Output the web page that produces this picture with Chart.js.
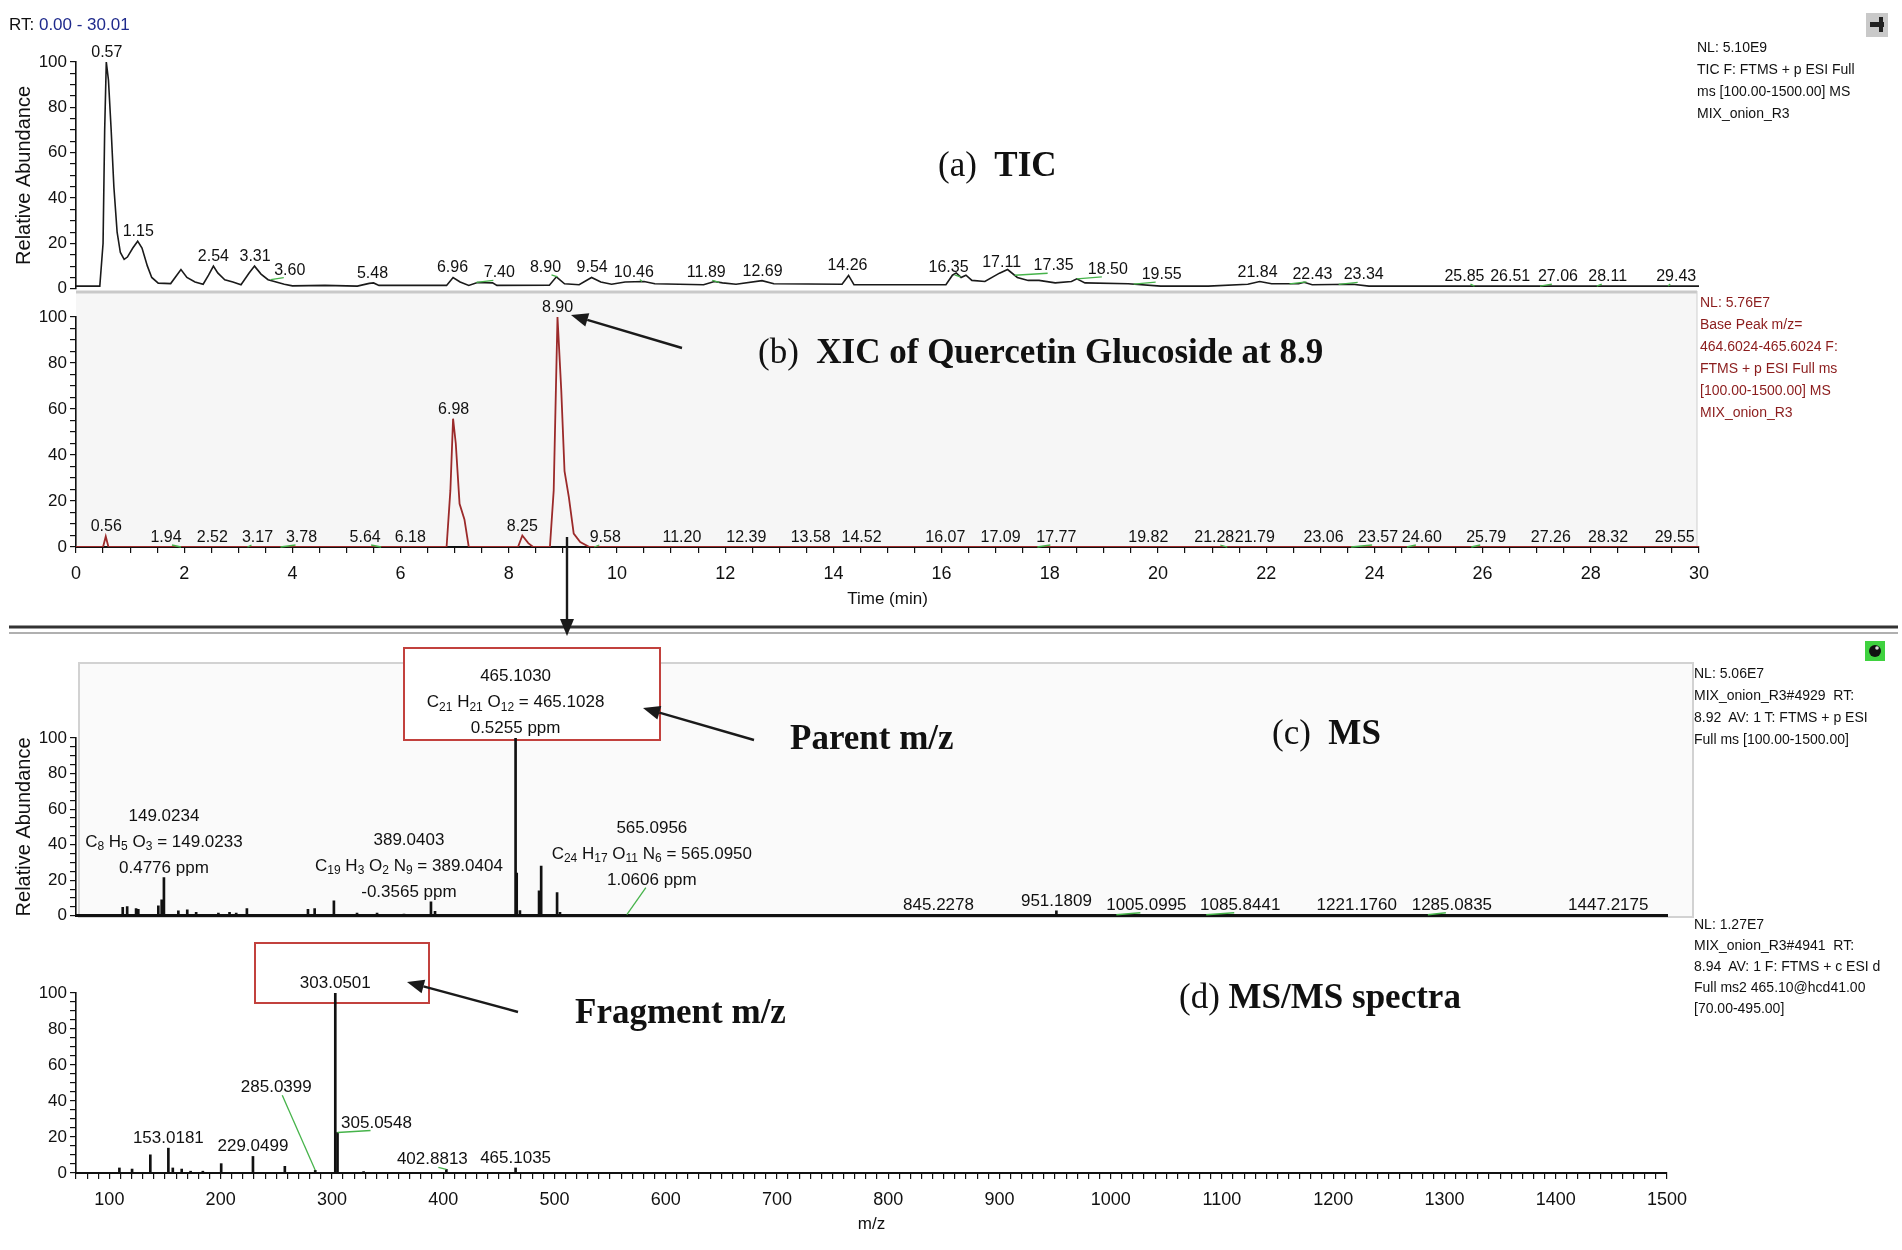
<!DOCTYPE html>
<html lang="en">
<head>
<meta charset="UTF-8">
<title>TIC / XIC / MS / MS-MS</title>
<script src="https://cdn.jsdelivr.net/npm/chart.js@4"></script>
<style>
  body { margin:0; width:1902px; height:1250px; background:#fff; position:relative; overflow:hidden;
         font-family:"Liberation Sans", Arial, sans-serif; color:#111; }
  .abs { position:absolute; }
  canvas { position:absolute; left:0; z-index:1; }
  .info { position:absolute; font-size:14px; line-height:22px; white-space:nowrap; z-index:2; }
  .ttl { position:absolute; font-family:"Liberation Serif","Times New Roman",serif; font-size:35px;
         line-height:40px; white-space:nowrap; z-index:2; }
</style>
</head>
<body>
<svg id="bg" class="abs" style="left:0;top:0;z-index:0" width="1902" height="1250"></svg>

<div class="abs" style="left:9px;top:15px;font-size:17px;line-height:20px;z-index:2">RT: <span style="color:#1f2a8c">0.00 - 30.01</span></div>

<div class="ttl" style="left:938px;top:145px">(a)&nbsp; <b>TIC</b></div>
<div class="ttl" style="left:758px;top:332px">(b)&nbsp; <b>XIC of Quercetin Glucoside at 8.9</b></div>
<div class="ttl" style="left:790px;top:718px"><b>Parent m/z</b></div>
<div class="ttl" style="left:1272px;top:713px">(c)&nbsp; <b>MS</b></div>
<div class="ttl" style="left:1179px;top:977px">(d) <b>MS/MS spectra</b></div>
<div class="ttl" style="left:575px;top:992px"><b>Fragment m/z</b></div>

<div class="info" style="left:1697px;top:36px">NL: 5.10E9<br>TIC F: FTMS + p ESI Full<br>ms [100.00-1500.00] MS<br>MIX_onion_R3</div>
<div class="info" style="left:1700px;top:291px;color:#8b1c1c">NL: 5.76E7<br>Base Peak m/z=<br>464.6024-465.6024 F:<br>FTMS + p ESI Full ms<br>[100.00-1500.00] MS<br>MIX_onion_R3</div>
<div class="info" style="left:1694px;top:662px">NL: 5.06E7<br>MIX_onion_R3#4929&nbsp; RT:<br>8.92&nbsp; AV: 1 T: FTMS + p ESI<br>Full ms [100.00-1500.00]</div>
<div class="info" style="left:1694px;top:914px;line-height:21px">NL: 1.27E7<br>MIX_onion_R3#4941&nbsp; RT:<br>8.94&nbsp; AV: 1 F: FTMS + c ESI d<br>Full ms2 465.10@hcd41.00<br>[70.00-495.00]</div>

<canvas id="cTic" width="1902" height="302" style="top:0"></canvas>
<canvas id="cXic" width="1902" height="334" style="top:290px"></canvas>
<canvas id="cMs" width="1902" height="299" style="top:630px"></canvas>
<canvas id="cMs2" width="1902" height="317" style="top:930px"></canvas>

<svg id="fg" class="abs" style="left:0;top:0;z-index:3" width="1902" height="1250"></svg>

<script>
// ---- (a) TIC, retention time (min) vs relative abundance (%)
const ticTime = [0, 0.44, 0.5, 0.53, 0.56, 0.6, 0.65, 0.7, 0.76, 0.82, 0.89, 0.95, 1.05, 1.14, 1.22, 1.32, 1.4, 1.52,
  1.75, 1.94, 2.05, 2.2, 2.35, 2.45, 2.54, 2.62, 2.75, 2.9, 3.05, 3.2, 3.3, 3.42, 3.55, 3.7, 3.85, 4.0, 4.6, 5.2,
  5.42, 5.5, 5.6, 6.85, 6.97, 7.1, 7.26, 7.42, 7.7, 7.78, 8.75, 8.88, 9.03, 9.3, 9.53, 9.7, 9.9, 10.15, 10.5, 10.7,
  11.6, 11.8, 11.95, 12.2, 12.68, 12.9, 14.16, 14.28, 14.38, 16.08, 16.2, 16.27, 16.36, 16.45, 16.56, 16.8, 17.07,
  17.22, 17.4, 17.6, 17.8, 18.1, 18.4, 18.5, 18.65, 19.45, 20.05, 20.93, 21.66, 21.88, 22.1, 22.6, 22.7, 22.85,
  23.6, 23.9, 30];
const ticAbund = [1.2, 1.2, 20, 70, 100, 92, 70, 45, 25, 16, 13, 14, 18, 21, 18, 10, 5, 2.5,
  2.3, 8.5, 5, 3, 2, 6, 10, 7, 4, 3, 1.8, 7, 10, 6.5, 4, 3, 2, 1.3, 1.5, 1.2,
  2.4, 2.6, 1.5, 1.5, 5, 3, 1.5, 2.8, 2.6, 1.5, 1.6, 5.3, 2.2, 1.8, 5, 3, 2, 3, 3.2, 2.2,
  1.8, 3.2, 2.6, 2, 3.6, 2.2, 2, 5.9, 1.8, 1.8, 6, 7, 5, 6, 3.7, 3.2, 6.9,
  8.5, 5, 3.7, 3.7, 2.6, 3.2, 4.4, 2.6, 2.2, 1.2, 1.2, 2, 3.2, 2.2, 2.2, 2.9, 1.8,
  2, 1.2, 1.2];
const ticLabels = ['0.57', '1.15', '2.54', '3.31', '3.60', '5.48', '6.96', '7.40', '8.90', '9.54', '10.46', '11.89',
  '12.69', '14.26', '16.35', '17.11', '17.35', '18.50', '19.55', '21.84', '22.43', '23.34', '25.85', '26.51',
  '27.06', '28.11', '29.43'];

// ---- (b) XIC of m/z 464.6024-465.6024
const xicTime = [0, 0.5, 0.55, 0.6, 6.85, 6.92, 6.97, 7.02, 7.09, 7.18, 7.26, 8.17, 8.25, 8.36, 8.45, 8.76, 8.83,
  8.9, 8.97, 9.03, 9.11, 9.2, 9.32, 9.49, 30];
const xicAbund = [0, 0, 4.6, 0, 0, 24.6, 55.8, 45, 18.8, 12, 0, 0, 5, 1.7, 0, 0, 24.6,
  100, 68, 33, 21.7, 5.8, 2.2, 0, 0];
const xicLabels = ['0.56', '1.94', '2.52', '3.17', '3.78', '5.64', '6.18', '6.98', '8.25', '8.90', '9.58', '11.20',
  '12.39', '13.58', '14.52', '16.07', '17.09', '17.77', '19.82', '21.28', '21.79', '23.06', '23.57', '24.60',
  '25.79', '27.26', '28.32', '29.55'];

// ---- (c) full-scan MS at RT 8.92
const msMz = [112, 116, 124, 126, 144, 147, 149.0234, 162, 170, 178, 198, 208, 214, 223.6, 278.5, 284.5, 301.8,
  322.6, 340.6, 364.8, 389.0403, 392.7, 465.1030, 466.106, 469, 486.2, 488.1, 502.4, 505, 565.0956, 845.2278,
  951.1809, 1005.0995, 1085.8441, 1221.1760, 1285.0835, 1447.2175];
const msAbund = [4.7, 5.2, 4, 3.7, 5.6, 9, 21.5, 2.8, 3.4, 1.9, 1.5, 2, 1.5, 4, 3.7, 4, 8.4,
  1.5, 1.5, 1, 7.9, 2.5, 100, 24, 3, 14, 28, 13, 2, 0.6, 0.6,
  2.8, 0.6, 0.6, 0.5, 0.6, 0.5];

// ---- (d) MS/MS of 465.10
const ms2Mz = [109, 120.4, 136.8, 153.0181, 157, 165, 173, 184, 200.5, 229.0499, 257.7, 285.0399, 303.0501,
  305.0548, 328.5, 402.8813, 465.1035];
const ms2Abund = [2.8, 2.2, 10.1, 13.8, 2.8, 2.2, 1, 1, 5.2, 9.2, 3.7, 1.5, 100, 22.5, 0.8, 2, 2.8];

// tick labels
const rtTicks = [0, 2, 4, 6, 8, 10, 12, 14, 16, 18, 20, 22, 24, 26, 28, 30];
const mzTicks = [100, 200, 300, 400, 500, 600, 700, 800, 900, 1000, 1100, 1200, 1300, 1400, 1500];
const abundTicks = [0, 20, 40, 60, 80, 100];

// label nudges (px) where the original software moved a label off its peak
const ticShift = {'3.60': 19, '7.40': 23, '8.90': -12, '10.46': -8, '11.89': -13, '16.35': -12, '17.35': 39,
  '18.50': 31, '19.55': 28, '22.43': 23, '23.34': 25, '25.85': -10, '27.06': 18, '28.11': 11, '29.43': 8};
const xicShift = {'1.94': -15, '3.17': 10, '3.78': 21, '5.64': -16, '9.58': 11, '17.77': 19, '21.28': -13,
  '23.57': 27, '24.60': 15, '25.79': 15};

const msNotes = [
  {lines: ['149.0234', 'C_8 H_5 O_3 = 149.0233', '0.4776 ppm'], at: 149.0234},
  {lines: ['389.0403', 'C_19 H_3 O_2 N_9 = 389.0404', '-0.3565 ppm'], at: 389.0403, dx: -22, quiet: true},
  {lines: ['465.1030', 'C_21 H_21 O_12 = 465.1028', '0.5255 ppm'], at: 465.1030},
  {lines: ['565.0956', 'C_24 H_17 O_11 N_6 = 565.0950', '1.0606 ppm'], at: 565.0956, dx: 25, lift: 25},
  {lines: ['845.2278'], at: 845.2278},
  {lines: ['951.1809'], at: 951.1809},
  {lines: ['1005.0995'], at: 1005.0995, dx: 30},
  {lines: ['1085.8441'], at: 1085.8441, dx: 34},
  {lines: ['1221.1760'], at: 1221.1760},
  {lines: ['1285.0835'], at: 1285.0835, dx: 24},
  {lines: ['1447.2175'], at: 1447.2175}
];
const ms2Notes = [
  {lines: ['153.0181'], at: 153.0181},
  {lines: ['229.0499'], at: 229.0499},
  {lines: ['285.0399'], at: 285.0399, dx: -39, lift: 73},
  {lines: ['303.0501'], at: 303.0501},
  {lines: ['305.0548'], at: 305.0548, dx: 39},
  {lines: ['402.8813'], at: 402.8813, dx: -14},
  {lines: ['465.1035'], at: 465.1035}
];

const FAM = '"Liberation Sans", Arial, sans-serif';
Chart.defaults.font.family = FAM;
Chart.defaults.color = '#111';

function interp(xs, ys, t) {
  for (let i = 1; i < xs.length; i++) {
    if (t <= xs[i]) {
      const f = (t - xs[i - 1]) / (xs[i] - xs[i - 1]);
      return ys[i - 1] + f * (ys[i] - ys[i - 1]);
    }
  }
  return ys[ys.length - 1];
}
function traceHeight(xs, ys, win) {
  return t => {
    let h = interp(xs, ys, t);
    xs.forEach((x, i) => { if (Math.abs(x - t) <= win) h = Math.max(h, ys[i]); });
    return h;
  };
}
function stickHeight(xs, ys, win) {
  return m => {
    let h = 0;
    xs.forEach((x, i) => { if (Math.abs(x - m) <= win) h = Math.max(h, ys[i]); });
    return h;
  };
}

// text with _n subscripts
function drawRich(ctx, text, cx, base, size) {
  const parts = text.split(/_(\d+)/);
  const big = size + 'px ' + FAM, small = Math.round(size * 0.68) + 'px ' + FAM;
  let w = 0;
  parts.forEach((p, i) => { ctx.font = i % 2 ? small : big; w += ctx.measureText(p).width; });
  let x = cx - w / 2;
  parts.forEach((p, i) => {
    ctx.font = i % 2 ? small : big;
    ctx.fillText(p, x, i % 2 ? base + size * 0.22 : base);
    x += ctx.measureText(p).width;
  });
}

const labelSets = {
  cTic: {size: 16, lineGap: 26, height: traceHeight(ticTime, ticAbund, 0.08),
    items: ticLabels.map(s => ({lines: [s], at: parseFloat(s), dx: ticShift[s] || 0}))},
  cXic: {size: 16, lineGap: 26, height: traceHeight(xicTime, xicAbund, 0.08),
    items: xicLabels.map(s => ({lines: [s], at: parseFloat(s), dx: xicShift[s] || 0}))},
  cMs: {size: 17, lineGap: 26, height: stickHeight(msMz, msAbund, 1), items: msNotes},
  cMs2: {size: 17, lineGap: 26, height: stickHeight(ms2Mz, ms2Abund, 1), items: ms2Notes}
};

const peakLabels = {
  id: 'peakLabels',
  afterDatasetsDraw(chart) {
    const set = labelSets[chart.canvas.id];
    if (!set) return;
    const ctx = chart.ctx, xs = chart.scales.x, ys = chart.scales.y;
    ctx.save();
    ctx.fillStyle = '#111';
    ctx.textAlign = 'left';
    ctx.textBaseline = 'alphabetic';
    set.items.forEach(it => {
      const dx = it.dx || 0, lift = it.lift || 0;
      const px = xs.getPixelForValue(it.at);
      const py = ys.getPixelForValue(set.height(it.at));
      const cx = px + dx;
      const base = py - 5 - lift;
      const n = it.lines.length;
      it.lines.forEach((ln, k) => drawRich(ctx, ln, cx, base - (n - 1 - k) * set.lineGap, set.size));
      if ((dx || lift) && !it.quiet) {
        ctx.strokeStyle = '#46b34a';
        ctx.lineWidth = 1.3;
        ctx.beginPath();
        ctx.moveTo(cx - Math.sign(dx) * 6, base + 3);
        ctx.lineTo(px, py);
        ctx.stroke();
      }
    });
    ctx.restore();
  }
};

function yAxis(title) {
  return {
    type: 'linear', min: 0, max: 100,
    afterFit: s => { s.width = 68; },
    ticks: {stepSize: 5, autoSkip: false, color: '#111', font: {size: 17}, padding: 3,
      callback: v => abundTicks.includes(v) ? v : ''},
    grid: {drawOnChartArea: false, drawTicks: true, tickLength: 6, color: '#111', lineWidth: 1.2},
    border: {display: true, color: '#111', width: 1.6},
    title: {display: !!title, text: title || '', font: {size: 20}, color: '#111', padding: {top: 4, bottom: 4}}
  };
}
function xAxis(min, max, step, labels, title, height) {
  return {
    type: 'linear', min: min, max: max, offset: false,
    afterFit: s => { s.height = height; },
    ticks: {stepSize: step, autoSkip: false, maxRotation: 0, minRotation: 0, color: '#111', font: {size: 18},
      padding: 10, callback: v => labels.includes(v) ? v : ''},
    grid: {drawOnChartArea: false, drawTicks: true, tickLength: 6, color: '#111', lineWidth: 1.2, offset: false},
    border: {display: true, color: '#111', width: 2},
    title: {display: true, text: title, font: {size: 17}, color: '#111', padding: {top: 4, bottom: 4}}
  };
}
function opts(padding, x, y) {
  return {
    responsive: false, animation: false, events: [],
    layout: {padding: padding},
    plugins: {legend: {display: false}, tooltip: {enabled: false}},
    scales: {x: x, y: y}
  };
}
function pts(xs, ys) { return xs.map((x, i) => ({x: x, y: ys[i]})); }

new Chart(document.getElementById('cTic'), {
  type: 'line',
  data: {datasets: [{data: pts(ticTime, ticAbund), borderColor: '#1a1a1a', borderWidth: 1.6, pointRadius: 0, tension: 0}]},
  options: opts({left: 8, right: 203, top: 62, bottom: 12},
    {type: 'linear', min: 0, max: 30, display: false}, yAxis('Relative Abundance')),
  plugins: [peakLabels]
});

new Chart(document.getElementById('cXic'), {
  type: 'line',
  data: {datasets: [{data: pts(xicTime, xicAbund), borderColor: '#9b2a2a', borderWidth: 1.8, pointRadius: 0, tension: 0}]},
  options: opts({left: 8, right: 203, top: 27, bottom: 10},
    xAxis(0, 30, 0.5, rtTicks, 'Time (min)', 67), yAxis('')),
  plugins: [peakLabels]
});

const msX = {type: 'linear', min: 70, max: 1500, offset: false, afterFit: s => { s.height = 0; },
  ticks: {display: false}, grid: {display: false, offset: false}, border: {display: true, color: '#111', width: 3}};

new Chart(document.getElementById('cMs'), {
  type: 'bar',
  data: {datasets: [{data: pts(msMz, msAbund), backgroundColor: '#111', barThickness: 2}]},
  options: opts({left: 8, right: 235, top: 108, bottom: 12}, msX, yAxis('Relative Abundance')),
  plugins: [peakLabels]
});

new Chart(document.getElementById('cMs2'), {
  type: 'bar',
  data: {datasets: [{data: pts(ms2Mz, ms2Abund), backgroundColor: '#111', barThickness: 2}]},
  options: opts({left: 8, right: 235, top: 63, bottom: 8},
    xAxis(70, 1500, 10, mzTicks, 'm/z', 66), yAxis('')),
  plugins: [peakLabels]
});

// ---- decorations: panel frames, red boxes, arrows
const NS = 'http://www.w3.org/2000/svg';
function el(svg, tag, attrs) {
  const e = document.createElementNS(NS, tag);
  Object.keys(attrs).forEach(k => e.setAttribute(k, attrs[k]));
  svg.appendChild(e);
  return e;
}
const bg = document.getElementById('bg'), fg = document.getElementById('fg');

el(bg, 'rect', {x: 76, y: 291, width: 1621, height: 256, fill: '#f6f6f6', stroke: 'none'});
el(bg, 'line', {x1: 76, y1: 292, x2: 1697, y2: 292, stroke: '#c9c9c9', 'stroke-width': 3});
el(bg, 'line', {x1: 1697, y1: 291, x2: 1697, y2: 547, stroke: '#cfcfcf', 'stroke-width': 1});
el(bg, 'rect', {x: 79, y: 663, width: 1614, height: 254, fill: '#fafafa', stroke: '#d2d2d2', 'stroke-width': 2});
el(bg, 'rect', {x: 404, y: 648, width: 256, height: 92, fill: '#fff', stroke: '#c2413d', 'stroke-width': 2});
el(bg, 'rect', {x: 255, y: 943, width: 174, height: 60, fill: '#fff', stroke: '#c2413d', 'stroke-width': 2});
// toolbar icons
el(bg, 'rect', {x: 1866, y: 13, width: 22, height: 24, fill: '#c9c9c9'});
el(bg, 'rect', {x: 1870, y: 22, width: 14, height: 5, fill: '#222'});
el(bg, 'rect', {x: 1879, y: 17, width: 4, height: 15, fill: '#222'});
el(bg, 'rect', {x: 1865, y: 641, width: 20, height: 20, fill: '#3fd23f'});
el(bg, 'circle', {cx: 1875, cy: 651, r: 6, fill: '#111'});
el(bg, 'circle', {cx: 1877, cy: 648, r: 1.8, fill: '#ddd'});

el(fg, 'line', {x1: 9, y1: 627, x2: 1898, y2: 627, stroke: '#333', 'stroke-width': 3});
el(fg, 'line', {x1: 9, y1: 633, x2: 1898, y2: 633, stroke: '#b0b0b0', 'stroke-width': 2});

function arrow(x1, y1, x2, y2) {
  const a = Math.atan2(y2 - y1, x2 - x1), L = 17, W = 7;
  const bx = x2 - L * Math.cos(a), by = y2 - L * Math.sin(a);
  el(fg, 'line', {x1: x1, y1: y1, x2: bx, y2: by, stroke: '#1a1a1a', 'stroke-width': 2.4});
  el(fg, 'polygon', {points: [x2, y2, bx + W * Math.sin(a), by - W * Math.cos(a), bx - W * Math.sin(a), by + W * Math.cos(a)].join(' '),
    fill: '#1a1a1a'});
}
arrow(682, 348, 571, 315);
arrow(567, 537, 567, 636);
arrow(754, 740, 643, 708);
arrow(518, 1012, 407, 982);
</script>
</body>
</html>
